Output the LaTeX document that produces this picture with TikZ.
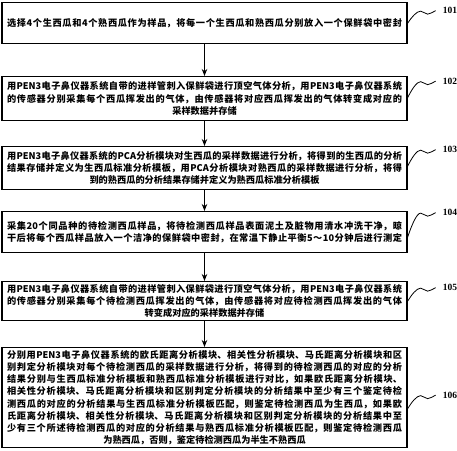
\documentclass[tikz,border=0pt]{standalone}
\usepackage{fontspec}
\setmainfont{Noto Sans CJK SC}
\newfontfamily\numfont{Liberation Serif}
\usetikzlibrary{arrows.meta}
\XeTeXlinebreaklocale "zh"
\XeTeXlinebreakskip=0pt plus 2pt
\newcommand\lastctr{\leftskip=0pt plus 1fil\relax\rightskip=0pt plus -1fil\relax\parfillskip=0pt plus 2fil\relax\noindent}
\newcommand\lastfull{\leftskip=0pt\relax\rightskip=0pt\relax\parfillskip=0pt\relax\noindent}
\newcommand\steptext[1]{\parbox{395pt}{#1}}
\newcommand\squig[3]{%
  \draw[squigline] (#1) .. controls +(4,-0.5*#2) and +(-4,0) .. ++(13,-#2)
    .. controls +(3,0) and +(-3,0) .. ++(7,3)
    .. controls +(3,0) and +(-3,1) .. ++(8,-3.5) coordinate (#3);}
\begin{document}
\begin{tikzpicture}[x=1pt,y=-1pt,
  stepbox/.style={draw, line width=1.3pt, minimum width=405pt,
    inner xsep=5pt, inner ysep=1pt, anchor=north,
    font=\fontsize{9.2}{12.2}\selectfont\bfseries},
  arr/.style={-{Stealth[length=7pt,width=5.5pt]}, line width=1pt},
  squigline/.style={line width=0.8pt},
  lbl/.style={font=\fontsize{9.5}{10}\selectfont\numfont\bfseries, inner sep=0pt, anchor=west}]
\useasboundingbox (0,0) rectangle (457,450);

\node[stepbox, minimum height=41pt] (b1) at (204.5,2)
  {\steptext{\lastfull 选择4个生西瓜和4个熟西瓜作为样品，将每一个生西瓜和熟西瓜分别放入一个保鲜袋中密封}};
\node[stepbox, minimum height=44pt] (b2) at (204.5,76)
  {\steptext{\lastctr 用PEN3电子鼻仪器系统自带的进样管刺入保鲜袋进行顶空气体分析，用PEN3电子鼻仪器系统\linebreak
   的传感器分别采集每个西瓜挥发出的气体，由传感器将对应西瓜挥发出的气体转变成对应的\linebreak
   采样数据并存储}};
\node[stepbox, minimum height=43pt] (b3) at (204.5,146)
  {\steptext{\lastctr 用PEN3电子鼻仪器系统的PCA分析模块对生西瓜的采样数据进行分析，将得到的生西瓜的分析\linebreak
   结果存储并定义为生西瓜标准分析模板，用PCA分析模块对熟西瓜的采样数据进行分析，将得\linebreak
   到的熟西瓜的分析结果存储并定义为熟西瓜标准分析模板}};
\node[stepbox, minimum height=41pt] (b4) at (204.5,211)
  {\steptext{\lastfull 采集20个同品种的待检测西瓜样品，将待检测西瓜样品表面泥土及脏物用清水冲洗干净，晾\linebreak
   干后将每个西瓜样品放入一个洁净的保鲜袋中密封，在常温下静止平衡5～10分钟后进行测定}};
\node[stepbox, minimum height=39pt] (b5) at (204.5,281)
  {\steptext{\lastctr 用PEN3电子鼻仪器系统自带的进样管刺入保鲜袋进行顶空气体分析，用PEN3电子鼻仪器系统\linebreak
   的传感器分别采集每个待检测西瓜挥发出的气体，由传感器将对应待检测西瓜挥发出的气体\linebreak
   转变成对应的采样数据并存储}};
\node[stepbox, minimum height=100pt] (b6) at (204.5,347)
  {\steptext{\lastctr 分别用PEN3电子鼻仪器系统的欧氏距离分析模块、相关性分析模块、马氏距离分析模块和区\linebreak
   别判定分析模块对每个待检测西瓜的采样数据进行分析，将得到的待检测西瓜的对应的分析\linebreak
   结果分别与生西瓜标准分析模板和熟西瓜标准分析模板进行对比，如果欧氏距离分析模块、\linebreak
   相关性分析模块、马氏距离分析模块和区别判定分析模块的分析结果中至少有三个鉴定待检\linebreak
   测西瓜的对应的分析结果与生西瓜标准分析模板匹配，则鉴定待检测西瓜为生西瓜，如果欧\linebreak
   氏距离分析模块、相关性分析模块、马氏距离分析模块和区别判定分析模块的分析结果中至\linebreak
   少有三个所述待检测西瓜的对应的分析结果与熟西瓜标准分析模板匹配，则鉴定待检测西瓜\linebreak
   为熟西瓜，否则，鉴定待检测西瓜为半生不熟西瓜}};

\draw[arr] (b1) -- (b2);
\draw[arr] (b2) -- (b3);
\draw[arr] (b3) -- (b4);
\draw[arr] (b4) -- (b5);
\draw[arr] (b5) -- (b6);

\coordinate (s1) at ([yshift=0pt]b1.east);
\coordinate (s2) at ([yshift=1pt]b2.east);
\coordinate (s3) at ([yshift=2pt]b3.east);
\coordinate (s4) at ([yshift=-5pt]b4.east);
\coordinate (s5) at ([yshift=0pt]b5.east);
\coordinate (s6) at ([yshift=-11pt]b6.east);
\squig{s1}{12}{e1}
\squig{s2}{16}{e2}
\squig{s3}{16}{e3}
\squig{s4}{24}{e4}
\squig{s5}{13}{e5}
\squig{s6}{13}{e6}
\node[lbl] (l1) at ([xshift=7pt]e1) {101};
\node[lbl] (l2) at ([xshift=7pt]e2) {102};
\node[lbl] (l3) at ([xshift=7pt]e3) {103};
\node[lbl] (l4) at ([xshift=7pt]e4) {104};
\node[lbl] (l5) at ([xshift=7pt]e5) {105};
\node[lbl] (l6) at ([xshift=7pt]e6) {106};
\end{tikzpicture}
\end{document}
